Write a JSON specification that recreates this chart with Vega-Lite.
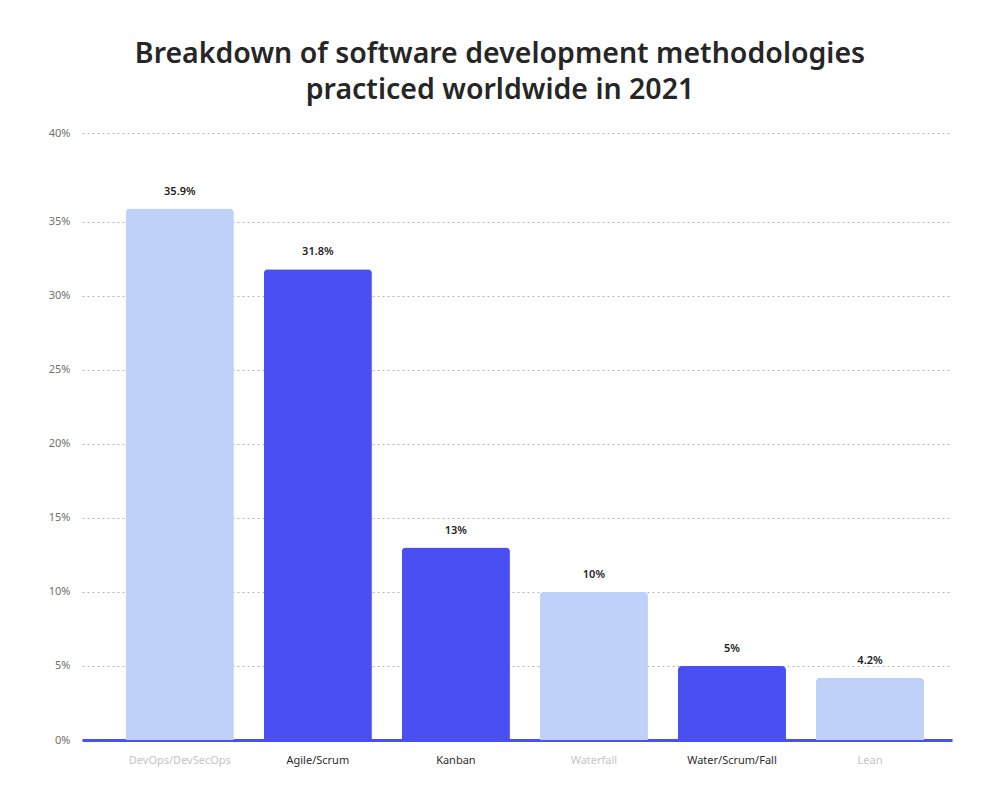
{
  "$schema": "https://vega.github.io/schema/vega-lite/v6.json",
  "width": 870,
  "height": 607,
  "autosize": {"type": "none"},
  "padding": {"left": 82, "top": 133, "right": 48, "bottom": 60},
  "background": "white",
  "title": {
    "text": ["Breakdown of software development methodologies", "practiced worldwide in 2021"],
    "fontSize": 28.5,
    "font": "Noto Sans",
    "fontWeight": 600,
    "color": "#262626",
    "lineHeight": 36,
    "anchor": "middle",
    "dx": -17,
    "offset": 23
  },
  "config": {
    "view": {"stroke": null},
    "font": "Noto Sans"
  },
  "data": {
    "values": [
      {"method": "DevOps/DevSecOps", "share": 35.9, "label": "35.9%"},
      {"method": "Agile/Scrum", "share": 31.8, "label": "31.8%"},
      {"method": "Kanban", "share": 13, "label": "13%"},
      {"method": "Waterfall", "share": 10, "label": "10%"},
      {"method": "Water/Scrum/Fall", "share": 5, "label": "5%"},
      {"method": "Lean", "share": 4.2, "label": "4.2%"}
    ]
  },
  "encoding": {
    "x": {
      "field": "method",
      "type": "nominal",
      "sort": null,
      "scale": {"paddingInner": 0.217, "paddingOuter": 0.26, "align": 0.61},
      "axis": {
        "title": null,
        "labelAngle": 0,
        "labelFontSize": 11,
        "labelPadding": 14,
        "ticks": false,
        "domainColor": "#4a4ff2",
        "domainWidth": 3,
        "labelColor": {"expr": "indexof(['DevOps/DevSecOps','Waterfall','Lean'], datum.value) >= 0 ? '#c4c4c4' : '#2b2b2b'"}
      }
    },
    "y": {
      "field": "share",
      "type": "quantitative",
      "scale": {"domain": [0, 41], "nice": false},
      "axis": {
        "title": null,
        "values": [0, 5, 10, 15, 20, 25, 30, 35, 41],
        "labelExpr": "datum.value == 41 ? '40%' : datum.value + '%'",
        "labelFontSize": 11,
        "labelColor": "#6f6f6f",
        "labelPadding": 12,
        "ticks": false,
        "domain": false,
        "gridColor": "#b5b5b5",
        "gridDash": [2, 3],
        "gridWidth": 1
      }
    }
  },
  "layer": [
    {
      "mark": {"type": "bar", "cornerRadiusTopLeft": 4, "cornerRadiusTopRight": 4},
      "encoding": {
        "color": {
          "field": "method",
          "type": "nominal",
          "legend": null,
          "scale": {
            "domain": ["DevOps/DevSecOps", "Agile/Scrum", "Kanban", "Waterfall", "Water/Scrum/Fall", "Lean"],
            "range": ["#bfd1f9", "#4a4ff2", "#4a4ff2", "#bfd1f9", "#4a4ff2", "#bfd1f9"]
          }
        }
      }
    },
    {
      "mark": {"type": "text", "dy": -17, "baseline": "middle", "fontSize": 11, "fontWeight": 600, "color": "#222222"},
      "encoding": {"text": {"field": "label"}}
    }
  ]
}
